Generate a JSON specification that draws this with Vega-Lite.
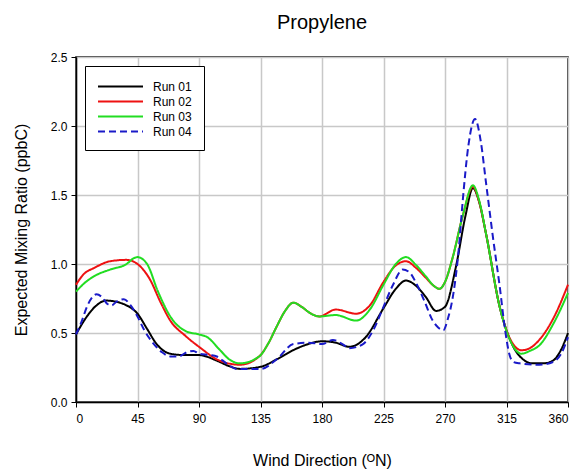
{
  "$schema": "https://vega.github.io/schema/vega-lite/v6.json",
  "width": 492,
  "height": 345,
  "autosize": {"type": "none"},
  "padding": {"left": 76, "top": 57, "right": 12, "bottom": 69},
  "background": "white",
  "config": {
    "font": "Liberation Sans",
    "view": {"stroke": "black", "strokeWidth": 1.5},
    "axis": {"labelFont": "Liberation Sans", "titleFont": "Liberation Sans", "labelColor": "black", "titleColor": "black", "titleFontWeight": "normal", "labelFontSize": 12, "titleFontSize": 16, "domainColor": "black", "domainWidth": 1.5, "tickColor": "black", "tickSize": 5, "gridColor": "#c8c8c8", "gridWidth": 1.5}
  },
  "title": {"text": "Propylene", "fontSize": 20, "fontWeight": "normal", "font": "Liberation Sans", "color": "black", "anchor": "middle", "offset": 18},
  "data": {"values": [
    {"run":"Run 01","deg":0,"val":0.49},{"run":"Run 01","deg":8,"val":0.62},{"run":"Run 01","deg":15,"val":0.70},{"run":"Run 01","deg":22,"val":0.735},{"run":"Run 01","deg":30,"val":0.725},{"run":"Run 01","deg":37,"val":0.70},{"run":"Run 01","deg":45,"val":0.64},{"run":"Run 01","deg":52,"val":0.53},{"run":"Run 01","deg":59,"val":0.42},{"run":"Run 01","deg":69,"val":0.35},{"run":"Run 01","deg":80,"val":0.34},{"run":"Run 01","deg":90,"val":0.34},{"run":"Run 01","deg":103,"val":0.30},{"run":"Run 01","deg":112,"val":0.26},{"run":"Run 01","deg":120,"val":0.24},{"run":"Run 01","deg":135,"val":0.255},{"run":"Run 01","deg":147,"val":0.31},{"run":"Run 01","deg":159,"val":0.376},{"run":"Run 01","deg":170,"val":0.42},{"run":"Run 01","deg":180,"val":0.44},{"run":"Run 01","deg":190,"val":0.43},{"run":"Run 01","deg":200,"val":0.40},{"run":"Run 01","deg":212,"val":0.47},{"run":"Run 01","deg":225,"val":0.68},{"run":"Run 01","deg":234,"val":0.82},{"run":"Run 01","deg":241.5,"val":0.88},{"run":"Run 01","deg":249,"val":0.84},{"run":"Run 01","deg":256,"val":0.76},{"run":"Run 01","deg":263.5,"val":0.66},{"run":"Run 01","deg":270,"val":0.69},{"run":"Run 01","deg":278,"val":0.98},{"run":"Run 01","deg":285,"val":1.35},{"run":"Run 01","deg":290.4,"val":1.55},{"run":"Run 01","deg":295,"val":1.45},{"run":"Run 01","deg":300,"val":1.22},{"run":"Run 01","deg":310,"val":0.69},{"run":"Run 01","deg":320,"val":0.40},{"run":"Run 01","deg":327,"val":0.31},{"run":"Run 01","deg":334,"val":0.28},{"run":"Run 01","deg":342,"val":0.28},{"run":"Run 01","deg":349,"val":0.30},{"run":"Run 01","deg":355,"val":0.38},{"run":"Run 01","deg":360,"val":0.50},
    {"run":"Run 02","deg":0,"val":0.85},{"run":"Run 02","deg":6,"val":0.93},{"run":"Run 02","deg":13,"val":0.97},{"run":"Run 02","deg":25,"val":1.02},{"run":"Run 02","deg":37,"val":1.03},{"run":"Run 02","deg":45,"val":1.0},{"run":"Run 02","deg":54,"val":0.89},{"run":"Run 02","deg":62,"val":0.72},{"run":"Run 02","deg":69,"val":0.59},{"run":"Run 02","deg":80,"val":0.48},{"run":"Run 02","deg":90,"val":0.40},{"run":"Run 02","deg":105,"val":0.30},{"run":"Run 02","deg":120,"val":0.27},{"run":"Run 02","deg":134,"val":0.33},{"run":"Run 02","deg":141,"val":0.43},{"run":"Run 02","deg":147,"val":0.55},{"run":"Run 02","deg":153,"val":0.66},{"run":"Run 02","deg":159,"val":0.72},{"run":"Run 02","deg":165,"val":0.69},{"run":"Run 02","deg":172,"val":0.64},{"run":"Run 02","deg":178,"val":0.62},{"run":"Run 02","deg":190,"val":0.67},{"run":"Run 02","deg":205,"val":0.64},{"run":"Run 02","deg":215,"val":0.70},{"run":"Run 02","deg":225,"val":0.87},{"run":"Run 02","deg":234,"val":0.99},{"run":"Run 02","deg":241.5,"val":1.02},{"run":"Run 02","deg":249,"val":0.97},{"run":"Run 02","deg":256,"val":0.90},{"run":"Run 02","deg":262,"val":0.84},{"run":"Run 02","deg":266,"val":0.82},{"run":"Run 02","deg":270,"val":0.87},{"run":"Run 02","deg":275.7,"val":1.05},{"run":"Run 02","deg":283,"val":1.35},{"run":"Run 02","deg":290.4,"val":1.56},{"run":"Run 02","deg":295,"val":1.45},{"run":"Run 02","deg":300,"val":1.22},{"run":"Run 02","deg":310,"val":0.69},{"run":"Run 02","deg":318,"val":0.45},{"run":"Run 02","deg":326,"val":0.375},{"run":"Run 02","deg":332,"val":0.39},{"run":"Run 02","deg":339,"val":0.45},{"run":"Run 02","deg":350,"val":0.62},{"run":"Run 02","deg":360,"val":0.85},
    {"run":"Run 03","deg":0,"val":0.80},{"run":"Run 03","deg":6,"val":0.86},{"run":"Run 03","deg":13,"val":0.91},{"run":"Run 03","deg":25,"val":0.96},{"run":"Run 03","deg":37,"val":1.0},{"run":"Run 03","deg":42,"val":1.04},{"run":"Run 03","deg":45,"val":1.05},{"run":"Run 03","deg":52,"val":1.0},{"run":"Run 03","deg":60,"val":0.80},{"run":"Run 03","deg":69,"val":0.62},{"run":"Run 03","deg":81,"val":0.51},{"run":"Run 03","deg":90,"val":0.49},{"run":"Run 03","deg":96,"val":0.47},{"run":"Run 03","deg":105,"val":0.38},{"run":"Run 03","deg":112,"val":0.31},{"run":"Run 03","deg":120,"val":0.28},{"run":"Run 03","deg":134,"val":0.33},{"run":"Run 03","deg":141,"val":0.43},{"run":"Run 03","deg":147,"val":0.55},{"run":"Run 03","deg":153,"val":0.66},{"run":"Run 03","deg":159,"val":0.72},{"run":"Run 03","deg":165,"val":0.69},{"run":"Run 03","deg":172,"val":0.64},{"run":"Run 03","deg":178,"val":0.62},{"run":"Run 03","deg":190,"val":0.63},{"run":"Run 03","deg":205,"val":0.59},{"run":"Run 03","deg":215,"val":0.67},{"run":"Run 03","deg":225,"val":0.85},{"run":"Run 03","deg":234,"val":1.0},{"run":"Run 03","deg":241.5,"val":1.05},{"run":"Run 03","deg":249,"val":0.99},{"run":"Run 03","deg":256,"val":0.91},{"run":"Run 03","deg":262,"val":0.84},{"run":"Run 03","deg":266,"val":0.82},{"run":"Run 03","deg":270,"val":0.87},{"run":"Run 03","deg":275.7,"val":1.05},{"run":"Run 03","deg":283,"val":1.35},{"run":"Run 03","deg":290.4,"val":1.57},{"run":"Run 03","deg":295,"val":1.46},{"run":"Run 03","deg":300,"val":1.22},{"run":"Run 03","deg":310,"val":0.69},{"run":"Run 03","deg":318,"val":0.44},{"run":"Run 03","deg":326,"val":0.35},{"run":"Run 03","deg":332,"val":0.37},{"run":"Run 03","deg":339,"val":0.41},{"run":"Run 03","deg":350,"val":0.58},{"run":"Run 03","deg":360,"val":0.79},
    {"run":"Run 04","deg":0,"val":0.49},{"run":"Run 04","deg":4,"val":0.58},{"run":"Run 04","deg":8,"val":0.69},{"run":"Run 04","deg":12,"val":0.76},{"run":"Run 04","deg":15,"val":0.78},{"run":"Run 04","deg":19,"val":0.76},{"run":"Run 04","deg":23,"val":0.71},{"run":"Run 04","deg":26,"val":0.70},{"run":"Run 04","deg":30,"val":0.73},{"run":"Run 04","deg":35,"val":0.745},{"run":"Run 04","deg":40,"val":0.70},{"run":"Run 04","deg":45,"val":0.62},{"run":"Run 04","deg":50,"val":0.52},{"run":"Run 04","deg":57,"val":0.42},{"run":"Run 04","deg":63,"val":0.36},{"run":"Run 04","deg":69,"val":0.33},{"run":"Run 04","deg":75,"val":0.33},{"run":"Run 04","deg":81,"val":0.36},{"run":"Run 04","deg":86,"val":0.37},{"run":"Run 04","deg":90,"val":0.35},{"run":"Run 04","deg":98,"val":0.34},{"run":"Run 04","deg":103,"val":0.33},{"run":"Run 04","deg":110,"val":0.28},{"run":"Run 04","deg":117.5,"val":0.24},{"run":"Run 04","deg":125,"val":0.24},{"run":"Run 04","deg":135,"val":0.24},{"run":"Run 04","deg":147,"val":0.31},{"run":"Run 04","deg":159,"val":0.42},{"run":"Run 04","deg":170,"val":0.43},{"run":"Run 04","deg":180,"val":0.42},{"run":"Run 04","deg":188,"val":0.45},{"run":"Run 04","deg":195,"val":0.42},{"run":"Run 04","deg":200,"val":0.39},{"run":"Run 04","deg":210,"val":0.42},{"run":"Run 04","deg":218,"val":0.53},{"run":"Run 04","deg":225,"val":0.69},{"run":"Run 04","deg":232,"val":0.85},{"run":"Run 04","deg":239,"val":0.96},{"run":"Run 04","deg":244,"val":0.94},{"run":"Run 04","deg":249,"val":0.86},{"run":"Run 04","deg":255,"val":0.73},{"run":"Run 04","deg":261,"val":0.59},{"run":"Run 04","deg":265,"val":0.54},{"run":"Run 04","deg":268.8,"val":0.52},{"run":"Run 04","deg":272,"val":0.60},{"run":"Run 04","deg":275.7,"val":0.76},{"run":"Run 04","deg":280,"val":1.1},{"run":"Run 04","deg":283,"val":1.46},{"run":"Run 04","deg":287,"val":1.85},{"run":"Run 04","deg":292,"val":2.05},{"run":"Run 04","deg":296,"val":1.90},{"run":"Run 04","deg":300,"val":1.59},{"run":"Run 04","deg":305,"val":1.2},{"run":"Run 04","deg":310,"val":0.84},{"run":"Run 04","deg":314,"val":0.52},{"run":"Run 04","deg":317,"val":0.35},{"run":"Run 04","deg":320,"val":0.29},{"run":"Run 04","deg":324.6,"val":0.28},{"run":"Run 04","deg":339,"val":0.27},{"run":"Run 04","deg":349,"val":0.29},{"run":"Run 04","deg":355,"val":0.35},{"run":"Run 04","deg":360,"val":0.47}
  ]},
  "mark": {"type": "line", "interpolate": "monotone", "strokeWidth": 2},
  "encoding": {
    "x": {"field": "deg", "type": "quantitative", "scale": {"domain": [0, 360], "nice": false},
      "axis": {"values": [0,45,90,135,180,225,270,315,360], "title": "Wind Direction (ᴼN)", "titlePadding": 28, "labelPadding": 6}},
    "y": {"field": "val", "type": "quantitative", "scale": {"domain": [0, 2.5], "nice": false},
      "axis": {"values": [0,0.5,1,1.5,2,2.5], "format": ".1f", "title": "Expected Mixing Ratio (ppbC)", "titlePadding": 21, "labelPadding": 4}},
    "color": {"field": "run", "type": "nominal", "scale": {"domain": ["Run 01","Run 02","Run 03","Run 04"], "range": ["#000000","#ee1111","#22dd22","#1a1ac8"]},
      "legend": {"title": null, "orient": "none", "legendX": 9, "legendY": 9, "symbolType": "M-1,0H5", "symbolSize": 225, "symbolStrokeWidth": 2, "labelFontSize": 12, "labelColor": "black", "labelFont": "Liberation Sans", "strokeColor": "black", "padding": 12, "rowPadding": 0, "labelOffset": 39, "fillColor": "white"}},
    "strokeDash": {"field": "run", "type": "nominal", "scale": {"domain": ["Run 01","Run 02","Run 03","Run 04"], "range": [[1,0],[1,0],[1,0],[7,4]]},
      "legend": {"title": null, "orient": "none", "legendX": 9, "legendY": 9, "symbolType": "M-1,0H5", "symbolSize": 225, "symbolStrokeWidth": 2, "labelFontSize": 12, "labelColor": "black", "labelFont": "Liberation Sans", "strokeColor": "black", "padding": 12, "rowPadding": 0, "labelOffset": 39, "fillColor": "white"}}
  }
}
